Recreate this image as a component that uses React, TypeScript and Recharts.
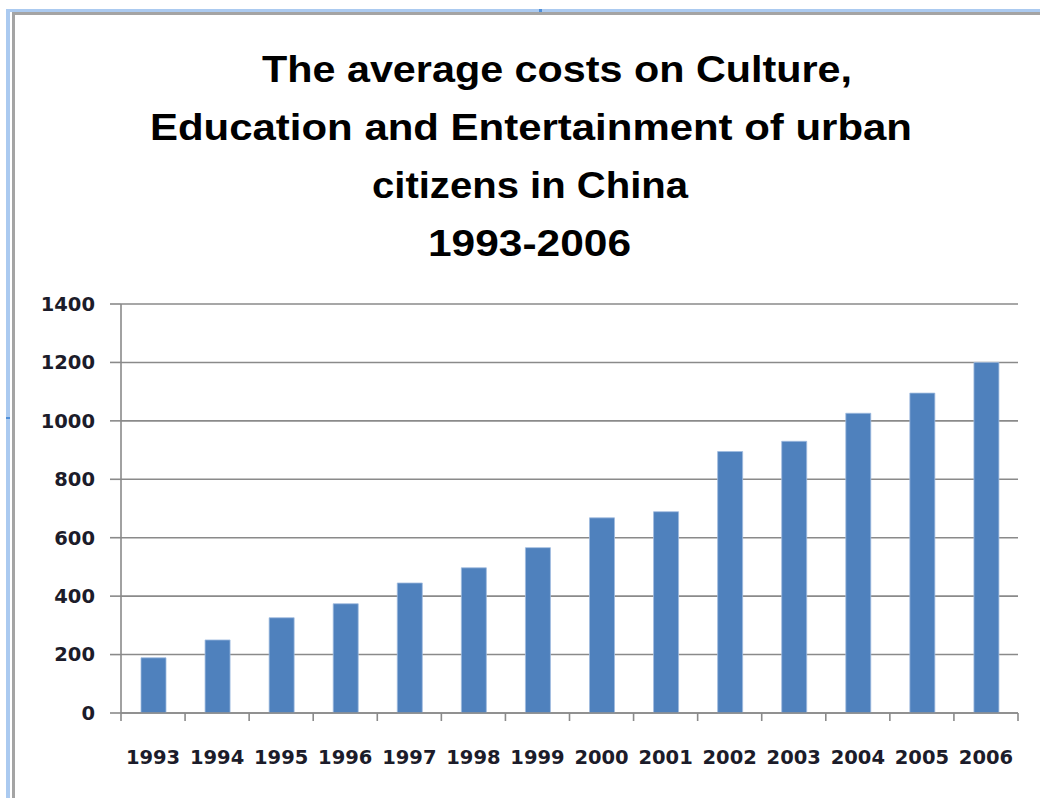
import React from "react";
import { BarChart, Bar, XAxis, YAxis, CartesianGrid } from "recharts";

const years = ["1993", "1994", "1995", "1996", "1997", "1998", "1999", "2000", "2001", "2002", "2003", "2004", "2005", "2006"];
const costs = [189, 250, 326, 374, 445, 497, 566, 668, 689, 895, 930, 1026, 1095, 1200];
const yTicks = [0, 200, 400, 600, 800, 1000, 1200, 1400];
const titleLines = [
  "The average costs on Culture,",
  "Education and Entertainment of urban",
  "citizens in China",
  "1993-2006",
];

const data = years.map((y, i) => ({ year: y, cost: costs[i] }));

const W = 1040;
const H = 798;
const AXIS_COLOR = "#8a8a8a";
const LABEL_FONT = "'DejaVu Sans', Verdana, sans-serif";
const X_MARGIN = 37;

const XTick = (props: any) => {
  const { x, y, payload, index, visibleTicksCount } = props;
  const half = payload && typeof payload.offset === "number" && payload.offset > 0 ? payload.offset : 32;
  const axisY = y - X_MARGIN;
  const last = index === (visibleTicksCount ?? years.length) - 1;
  return (
    <g>
      <line x1={x - half} x2={x - half} y1={axisY} y2={axisY + 8} stroke={AXIS_COLOR} strokeWidth={1.6} />
      {last && <line x1={x + half} x2={x + half} y1={axisY} y2={axisY + 8} stroke={AXIS_COLOR} strokeWidth={1.6} />}
      <text x={x} y={axisY + 51} textAnchor="middle" fontFamily={LABEL_FONT} fontSize={19.5} fontWeight="bold" fill="#1c1c2a">
        {payload.value}
      </text>
    </g>
  );
};

const titleSpecs = [
  { x1: 262, x2: 852, base: 82 },
  { x1: 150, x2: 912, base: 140 },
  { x1: 372, x2: 688, base: 198 },
  { x1: 428, x2: 631, base: 256 },
];

export default function App() {
  return (
    <div style={{ position: "absolute", left: 0, top: 0, width: W, height: H, background: "#ffffff", overflow: "hidden" }}>
      <BarChart
        width={W}
        height={H}
        data={data}
        margin={{ top: 304, right: 22, bottom: 25, left: 0 }}
        barCategoryGap="61%"
      >
        <CartesianGrid vertical={false} stroke={AXIS_COLOR} strokeWidth={1.6} />
        <XAxis
          dataKey="year"
          height={60}
          interval={0}
          tickLine={false}
          tickSize={0}
          tickMargin={X_MARGIN}
          axisLine={{ stroke: AXIS_COLOR, strokeWidth: 1.6 }}
          tick={<XTick />}
        />
        <YAxis
          width={121}
          domain={[0, 1400]}
          ticks={yTicks}
          interval={0}
          tickSize={11}
          tickMargin={15}
          tickLine={{ stroke: AXIS_COLOR, strokeWidth: 1.6 }}
          axisLine={{ stroke: AXIS_COLOR, strokeWidth: 1.6 }}
          tick={{ fontFamily: LABEL_FONT, fontSize: 19.5, fontWeight: "bold", fill: "#1c1c2a" }}
        />
        <Bar dataKey="cost" fill="#4f81bd" stroke="#9fbbe0" strokeWidth={0.8} barSize={25} isAnimationActive={false} />
      </BarChart>
      <svg width={W} height={H} style={{ position: "absolute", left: 0, top: 0, pointerEvents: "none" }}>
        <rect x={6} y={9} width={W - 6} height={3} fill="#abcaf0" />
        <rect x={6} y={9} width={4} height={H - 9} fill="#abcaf0" />
        <rect x={12} y={12} width={W - 12} height={3} fill="#a4a4a4" />
        <rect x={12} y={12} width={3} height={H - 12} fill="#a4a4a4" />
        <rect x={539} y={9} width={3} height={3} fill="#4f8fd8" />
        <rect x={6} y={417} width={4} height={2} fill="#4f8fd8" />
        {titleLines.map((t, i) => (
          <text
            key={i}
            x={titleSpecs[i].x1}
            y={titleSpecs[i].base}
            textLength={titleSpecs[i].x2 - titleSpecs[i].x1}
            lengthAdjust="spacingAndGlyphs"
            fontFamily="'Liberation Sans Narrow', 'Liberation Sans', Arial, sans-serif"
            fontWeight="bold"
            fontSize={37}
            fill="#000000"
          >
            {t}
          </text>
        ))}
      </svg>
    </div>
  );
}
